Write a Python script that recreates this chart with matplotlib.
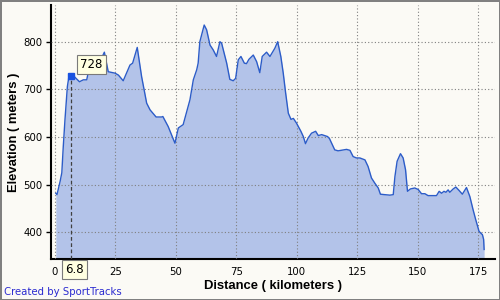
import matplotlib.pyplot as plt

# elevation profile (km, m)
dist = [0.3, 0.8, 2.1, 2.8, 3.4, 4.1, 5.1, 5.9, 6.8, 7.9,
        10.1, 11.7, 13.1, 13.8, 16.0, 18.0, 20.4, 22.0, 24.8, 26.2,
        28.2, 31.0, 32.1, 34.0, 35.8, 37.9, 39.3, 41.8, 44.1, 44.6,
        46.8, 49.6, 51.0, 53.0, 55.8, 57.2, 58.6, 59.2, 59.9, 61.7,
        62.7, 64.1, 65.4, 66.8, 68.2, 68.9, 71.0, 72.3, 73.7, 74.7,
        75.8, 76.9, 78.3, 79.2, 80.2, 82.0, 83.4, 84.7, 85.7, 87.5,
        88.9, 90.9, 92.1, 93.4, 94.4, 95.4, 96.5, 97.6, 98.6, 99.9,
        101.7, 102.7, 103.6, 104.7, 106.1, 107.8, 108.9, 110.3, 112.7, 113.5,
        115.7, 117.1, 120.6, 122.0, 123.3, 124.7, 126.1, 128.2, 129.5, 130.9,
        132.3, 133.7, 134.6, 136.4, 138.5, 139.9, 140.6, 141.5, 142.9, 144.0,
        145.0, 145.8, 147.0, 148.8, 150.2, 151.6, 153.0, 154.3, 157.8, 158.9,
        159.9, 160.9, 161.7, 162.6, 163.3, 164.7, 165.8, 167.1, 168.5, 170.2,
        171.6, 172.9, 174.0, 175.4, 176.8, 177.3, 177.5]
elev = [482, 479, 507, 525, 580, 636, 706, 732, 728, 727,
        716, 720, 720, 737, 745, 752, 778, 737, 734, 730,
        718, 751, 755, 788, 727, 671, 657, 642, 642, 643,
        622, 587, 619, 626, 678, 720, 741, 755, 800, 835,
        825, 793, 783, 769, 800, 797, 755, 721, 718, 723,
        762, 769, 755, 754, 763, 772, 758, 735, 769, 778,
        769, 786, 800, 769, 734, 692, 650, 637, 639, 629,
        612, 601, 586, 598, 608, 612, 603, 605, 601, 597,
        573, 571, 574, 572, 559, 556, 556, 552, 538, 514,
        503, 493, 480, 479, 478, 479, 517, 549, 565, 556,
        531, 486, 491, 493, 490, 481, 481, 477, 477, 486,
        482, 486, 484, 489, 484, 491, 495, 488, 480, 494,
        475, 448, 427, 402, 395, 385, 364]

x_ticks = [0, 25, 50, 75, 100, 125, 150, 175]
y_ticks = [400, 500, 600, 700, 800]

# selected point
sel_dist = 6.8
sel_elev = 728

bg = '#fbfaf5'
fig = plt.figure(figsize=(5, 3), dpi=100, facecolor=bg,
                 edgecolor='#808080', linewidth=2)
ax = fig.add_axes([0.1014, 0.1367, 0.8886, 0.8466])
ax.set_facecolor(bg)

ax.fill_between(dist, elev, 344, color='#b3c3e9', linewidth=0, zorder=1)
ax.plot(dist, elev, color='#2c5cc8', linewidth=1, zorder=3)

ax.set_xlim(-1.8, 182)
ax.set_ylim(344, 877)
ax.set_xticks(x_ticks)
ax.set_yticks(y_ticks)
ax.grid(True, color='#808080', linestyle=(0, (1, 2)), linewidth=0.8, zorder=2)
ax.set_axisbelow(False)

for s in ['top', 'right']:
    ax.spines[s].set_visible(False)
for s in ['left', 'bottom']:
    ax.spines[s].set_linewidth(1.5)
    ax.spines[s].set_color('black')

ax.tick_params(axis='both', labelsize=7.3, length=3.5, width=1, pad=2.5)
ax.tick_params(axis='x', length=0, pad=6)

# axis titles placed by hand
lab_font = dict(family='Liberation Sans', fontsize=9.4, fontweight='bold')
fig.text(273 / 500, 1 - 286.5 / 300, 'Distance ( kilometers )', ha='center', va='center', **lab_font)
fig.text(14 / 500, 1 - 132 / 300, 'Elevation ( meters )', rotation=90,
         ha='center', va='center', **lab_font)

# marker + dashed guide
ax.plot([sel_dist, sel_dist], [344, sel_elev], color='#404040',
        linestyle=(0, (3, 2)), linewidth=0.9, zorder=4)
ax.plot(sel_dist, sel_elev, marker='s', markersize=5, color='#1a52e0', zorder=5)

box = dict(boxstyle='square,pad=0.25', facecolor='#ffffe1', edgecolor='#7a7a7a', linewidth=0.8)
ax.annotate(str(sel_elev), xy=(sel_dist, sel_elev), xytext=(14.5, 8.3),
            textcoords='offset points', ha='center', va='center',
            fontsize=8.5, bbox=box, zorder=6)
ax.annotate(str(sel_dist), xy=(sel_dist, 0), xycoords=('data', 'axes fraction'),
            xytext=(2, -7.6), textcoords='offset points', ha='center', va='center',
            fontsize=8.5, bbox=box, zorder=6, annotation_clip=False)

fig.text(0.008, 0.018, 'Created by SportTracks', fontsize=7.3, color='#2a2ad0')

plt.savefig('out.png', dpi=100, facecolor=bg, edgecolor='#808080')
